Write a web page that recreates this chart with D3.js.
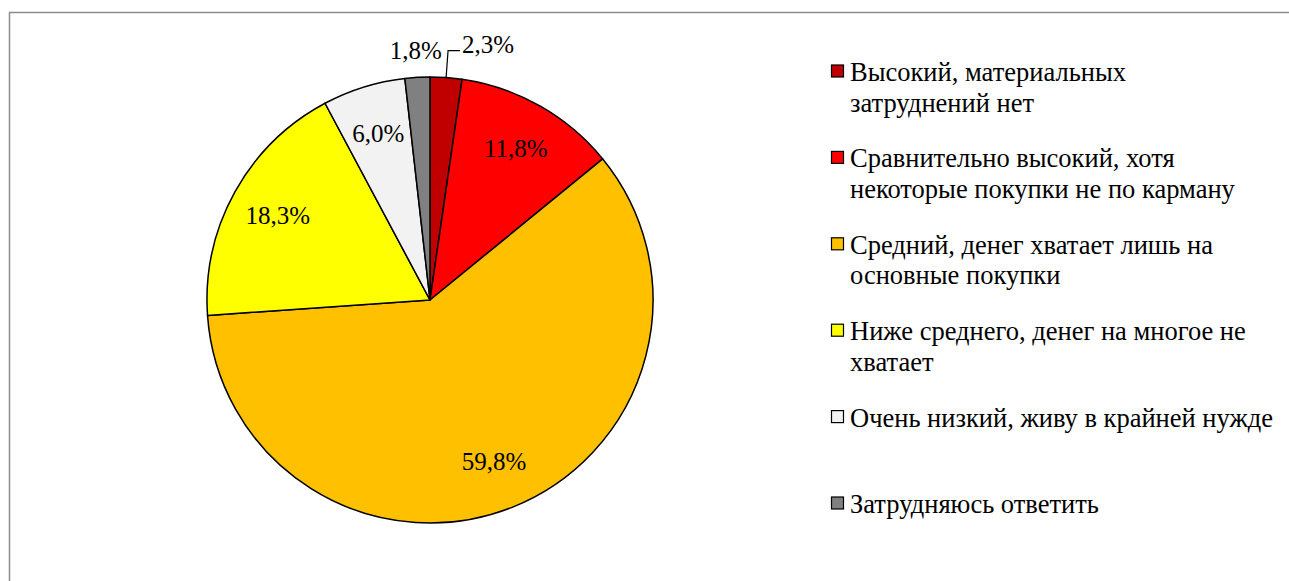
<!DOCTYPE html>
<html>

<head>
    <meta charset="UTF-8">
    <style>
        body { margin: 0; background: #fff; }
        svg { display: block; }
        text { font-family: "Liberation Serif", "Times New Roman", serif; fill: #000; }
    </style>
</head>

<body>
    <svg></svg>
    <script src="https://d3js.org/d3.v7.min.js"></script>
    <script>
        // data
        let categories = [
            "Высокий, материальных\nзатруднений нет",
            "Сравнительно высокий, хотя\nнекоторые покупки не по карману",
            "Средний, денег хватает лишь на\nосновные покупки",
            "Ниже среднего, денег на многое не\nхватает",
            "Очень низкий, живу в крайней нужде",
            "Затрудняюсь ответить"
        ];
        let values = [2.3, 11.8, 59.8, 18.3, 6.0, 1.8];
        let colors = ["#c00000", "#ff0000", "#ffc000", "#ffff00", "#f2f2f2", "#808080"];

        let width = 1289,
            height = 581;

        let svg = d3.select("svg")
            .attr("width", width)
            .attr("height", height);

        // chart area frame (only top and left visible)
        svg.append("rect")
            .attr("x", 9.5)
            .attr("y", 12.5)
            .attr("width", width)
            .attr("height", height)
            .attr("fill", "none")
            .attr("stroke", "#8c8c8c")
            .attr("stroke-width", 1.5);

        let cx = 430, cy = 300, radius = 223;

        let data = values.map((v, i) => ({ name: categories[i], value: v, i: i }));

        let pie = d3.pie()
            .sort(null)
            .value(d => d.value);

        let arcs = pie(data);

        let arc = d3.arc().innerRadius(0).outerRadius(radius);
        let labelArc = d3.arc().innerRadius(radius * 0.78).outerRadius(radius * 0.78);
        let edgeArc = d3.arc().innerRadius(radius).outerRadius(radius);
        let outArc = d3.arc().innerRadius(250).outerRadius(250);

        let g = svg.append("g")
            .attr("transform", "translate(" + cx + "," + cy + ")");

        g.selectAll("path.slice")
            .data(arcs)
            .enter()
            .append("path")
            .attr("class", "slice")
            .attr("d", arc)
            .attr("fill", d => colors[d.data.i])
            .attr("stroke", "#000")
            .attr("stroke-width", 1.5)
            .attr("stroke-linejoin", "round");

        let fmt = v => d3.format(".1f")(v).replace(".", ",") + "%";

        // labels inside bigger slices
        g.selectAll("text.inlabel")
            .data(arcs.filter(d => d.data.value >= 3))
            .enter()
            .append("text")
            .attr("class", "inlabel")
            .attr("transform", d => "translate(" + labelArc.centroid(d) + ")")
            .attr("text-anchor", "middle")
            .attr("dy", "0.33em")
            .style("font-size", "25px")
            .text(d => fmt(d.data.value));

        // small slices: labels outside
        let small = arcs.filter(d => d.data.value < 3);
        small.forEach(d => {
            let p = outArc.centroid(d);
            let mid = (d.startAngle + d.endAngle) / 2;
            if (mid < Math.PI) {
                // pushed right with a leader line
                let e = edgeArc.centroid(d);
                g.append("polyline")
                    .attr("points", [e, p, [p[0] + 12, p[1]]].map(q => q.join(",")).join(" "))
                    .attr("fill", "none")
                    .attr("stroke", "#000")
                    .attr("stroke-width", 1.2);
                g.append("text")
                    .attr("x", p[0] + 14)
                    .attr("y", p[1] - 6)
                    .attr("dy", "0.33em")
                    .style("font-size", "25px")
                    .text(fmt(d.data.value));
            } else {
                g.append("text")
                    .attr("x", p[0])
                    .attr("y", p[1])
                    .attr("text-anchor", "middle")
                    .attr("dy", "0.33em")
                    .style("font-size", "25px")
                    .text(fmt(d.data.value));
            }
        });

        // legend
        let legendY = d3.scaleLinear()
            .domain([0, categories.length - 1])
            .range([81, 513]);

        let legend = svg.append("g")
            .selectAll("g")
            .data(data)
            .enter()
            .append("g")
            .attr("transform", d => "translate(831," + legendY(d.i) + ")");

        legend.append("rect")
            .attr("x", 0.5)
            .attr("y", -16)
            .attr("width", 12)
            .attr("height", 12)
            .attr("fill", d => colors[d.i])
            .attr("stroke", "#000")
            .attr("stroke-width", 1.2);

        legend.append("text")
            .style("font-size", "26.5px")
            .selectAll("tspan")
            .data(d => d.name.split("\n"))
            .enter()
            .append("tspan")
            .attr("x", 19)
            .attr("y", (d, j) => j * 30.5)
            .text(d => d);
    </script>
</body>

</html>
